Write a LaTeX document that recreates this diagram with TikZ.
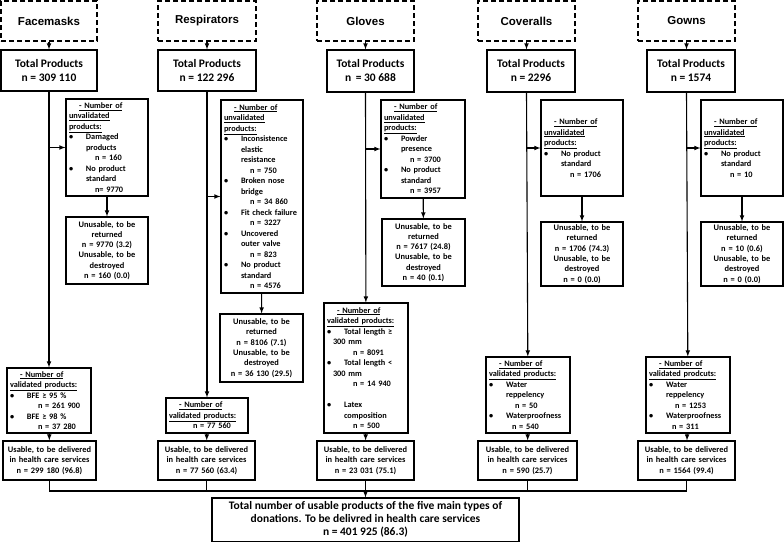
\documentclass[tikz,border=0pt]{standalone}
\usepackage{fontspec}
\setmainfont{Carlito}
\newfontfamily\arialfont{Liberation Sans}
\newcommand{\bul}{\makebox[17pt][l]{\textbullet}}
\newcommand{\ind}{\hspace*{17pt}}
\newcommand{\cnt}{\hspace*{26pt}}
\newcommand{\unvhead}{\hspace*{10pt}\underline{- Number of}\\\underline{unvalidated}\\\underline{products:}}
\tikzstyle{category}=[draw,line width=1.1pt,dash pattern=on 5pt off 3pt,minimum height=40pt,font=\arialfont\bfseries\fontsize{11.5}{14}\selectfont]
\tikzstyle{totalbox}=[draw,line width=1.1pt,align=center,font=\bfseries\fontsize{11.5}{14}\selectfont]
\tikzstyle{listbox}=[draw,line width=1.1pt,inner xsep=3pt,inner ysep=1pt,align=left,font=\bfseries\fontsize{8.3}{10.5}\selectfont]
\tikzstyle{outbox}=[draw,line width=1.1pt,inner xsep=2pt,inner ysep=1pt,align=center,font=\bfseries\fontsize{8.4}{10.3}\selectfont]
\tikzstyle{finalbox}=[draw,line width=1.1pt,align=center,font=\bfseries\fontsize{11.5}{13.3}\selectfont]

\begin{document}
\begin{tikzpicture}[x=1pt,y=-1pt]
  \useasboundingbox (0,0) rectangle (784,541);
  %% Categories
  \draw (49,21) node[category,minimum width=96] (catF) {Facemasks};
  \draw (207,21) node[category,minimum width=98] (catR) {Respirators};
  \draw (365.5,21) node[category,minimum width=97] (catG) {Gloves};
  \draw (526.5,21) node[category,minimum width=97] (catC) {Coveralls};
  \draw (686.5,21) node[category,minimum width=97] (catW) {Gowns};

  \draw (49,70.5) node[totalbox,minimum width=96,minimum height=41] (totF) {Total Products\\n = 309 110};
  \draw (207,70.5) node[totalbox,minimum width=98,minimum height=41] (totR) {Total Products\\n = 122 296};
  \draw (370.5,71) node[totalbox,minimum width=87,minimum height=42] (totG) {Total Products\\n \,= 30 688};
  \draw (531,71) node[totalbox,minimum width=88,minimum height=42] (totC) {Total Products\\n = 2296};
  \draw (691,71) node[totalbox,minimum width=88,minimum height=42] (totW) {Total Products\\n = 1574};

  %% Unvalidated products
  \draw (107,147.5) node[listbox,text width=76,minimum height=97] (unvF) {\unvhead\\
    \bul Damaged\\\ind products\\\cnt n = 160\\
    \bul No product\\\ind standard\\\cnt n= 9770};
  \draw (262,196.5) node[listbox,text width=76,minimum height=193] (unvR) {\unvhead\\
    \bul Inconsistence\\\ind elastic\\\ind resistance\\\cnt n = 750\\
    \bul Broken nose\\\ind bridge\\\cnt n = 34 860\\
    \bul Fit check failure\\\cnt n = 3227\\
    \bul Uncovered\\\ind outer valve\\\cnt n = 823\\
    \bul No product\\\ind standard\\\cnt n = 4576};
  \draw (423,149) node[listbox,text width=78,minimum height=98] (unvG) {\unvhead\\
    \bul Powder\\\ind presence\\\cnt n = 3700\\
    \bul No product\\\ind standard\\\cnt n = 3957};
  \draw (582,148) node[listbox,text width=76,minimum height=96] (unvC) {\unvhead\\
    \bul No product\\\ind standard\\\cnt n = 1706};
  \draw (742,148) node[listbox,text width=76,minimum height=96] (unvW) {\unvhead\\
    \bul No product\\\ind standard\\\cnt n = 10};

  \draw (107,250.5) node[outbox,text width=78,minimum height=67] (retF) {Unusable, to be\\returned\\n = 9770 (3.2)\\Unusable, to be\\destroyed\\n = 160 (0.0)};
  \draw (261.5,348) node[outbox,text width=79,minimum height=68] (retR) {Unusable, to be\\returned\\n = 8106 (7.1)\\Unusable, to be\\destroyed\\n = 36 130 (29.5)};
  \draw (423.5,252.5) node[outbox,text width=79,minimum height=67] (retG) {Unusable, to be\\returned\\n = 7617 (24.8)\\Unusable, to be\\destroyed\\n = 40 (0.1)};
  \draw (582,254) node[outbox,text width=78,minimum height=64] (retC) {Unusable, to be\\returned\\n = 1706 (74.3)\\Unusable, to be\\destroyed\\n = 0 (0.0)};
  \draw (742,254) node[outbox,text width=78,minimum height=64] (retW) {Unusable, to be\\returned\\n = 10 (0.6)\\Unusable, to be\\destroyed\\n = 0 (0.0)};

  %% Validated products
  \draw (49,400.5) node[listbox,text width=78,minimum height=65] (valF) {\hspace*{10pt}\underline{- Number of}\\\underline{validated products:}\\
    \bul BFE ≥ 95 \%\\\hspace*{28pt}n = 261 900\\
    \bul BFE ≥ 98 \%\\\hspace*{28pt}n = 37 280};
  \draw (207,415.5) node[listbox,text width=76,minimum height=35] (valR) {\hspace*{10pt}\underline{- Number of}\\\underline{validated products:}\\
    \hspace*{24pt}n = 77 560};
  \draw (366,368) node[listbox,text width=78,minimum height=130] (valG) {\hspace*{10pt}\underline{- Number of}\\\underline{validated products:}\\
    \bul Total length ≥\\\hspace*{6pt}300 mm\\\cnt n = 8091\\
    \bul Total length <\\\hspace*{6pt}300 mm\\\cnt n = 14 940\\[10.5pt]
    \bul Latex\\\ind composition\\\cnt n = 500};
  \draw (528,395) node[listbox,text width=78,minimum height=76] (valC) {\hspace*{10pt}\underline{- Number of}\\\underline{validated products:}\\
    \bul Water\\\ind reppelency\\\cnt n = 50\\
    \bul Waterproofness\\\hspace*{23pt}n = 540};
  \draw (688,395) node[listbox,text width=78,minimum height=76] (valW) {\hspace*{10pt}\underline{- Number of}\\\underline{validated prodcuts:}\\
    \bul Water\\\ind reppelency\\\cnt n = 1253\\
    \bul Waterproofness\\\hspace*{23pt}n = 311};

  %% Usable products
  \draw (49.5,460.5) node[outbox,text width=89,minimum height=39] (useF) {Usable, to be delivered\\in health care services\\n = 299 180 (96.8)};
  \draw (206.5,460.5) node[outbox,text width=93,minimum height=39] (useR) {Usable, to be delivered\\in health care services\\n = 77 560 (63.4)};
  \draw (365.5,460.5) node[outbox,text width=93,minimum height=39] (useG) {Usable, to be delivered\\in health care services\\n = 23 031 (75.1)};
  \draw (527.5,460.5) node[outbox,text width=95,minimum height=39] (useC) {Usable, to be delivered\\in health care services\\n = 590 (25.7)};
  \draw (686.5,460.5) node[outbox,text width=93,minimum height=39] (useW) {Usable, to be delivered\\in health care services\\n = 1564 (99.4)};

  \draw (365.5,519.5) node[finalbox,minimum width=307,minimum height=41] (final) {Total number of usable products of the five main types of\\donations. To be delivred in health care services\\n = 401 925 (86.3)};

  %% Arrows
  \foreach \c in {F,R,G,C,W}{
    \draw[-latex,line width=1.1pt] (cat\c) -- (cat\c |- tot\c.north);
    \draw[-latex,line width=1.1pt] (tot\c.south -| cat\c) -- (val\c);
    \draw[-latex,line width=1.1pt] (unv\c.west -| cat\c) -- (unv\c);
    \draw[-latex,line width=1.1pt] (unv\c) -- (ret\c);
    \draw[-latex,line width=1.1pt] (val\c) -- (use\c);
  }
  \coordinate (bus) at (365.5,491);
  \draw[line width=1.1pt] (useF) |- (bus) -| (useW);
  \draw[line width=1.1pt] (useR) -- (useR |- bus);
  \draw[line width=1.1pt] (useC) -- (useC |- bus);
  \draw[-latex,line width=1.1pt] (useG) -- (final);
\end{tikzpicture}
\end{document}
